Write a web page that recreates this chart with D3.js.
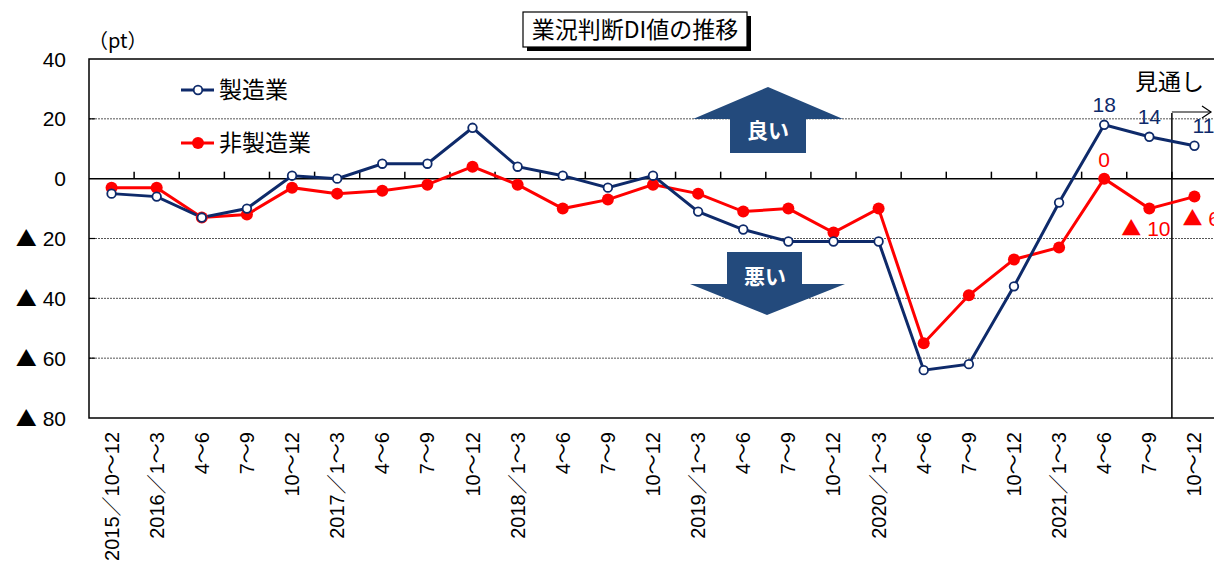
<!DOCTYPE html>
<html>
<head>
<meta charset="utf-8">
<script src="https://cdn.jsdelivr.net/npm/d3@7"></script>
<style>
  body { margin: 0; background: #fff; overflow: hidden; }
  text { font-family: "Liberation Sans", Arial, "Noto Sans CJK JP", sans-serif; }
  .jp { font-family: "Noto Sans CJK JP", sans-serif; }
</style>
</head>
<body>
<div id="chart"></div>
<script>
// quarters on the x axis
const quarters = ["2015／10～12", "2016／1～3", "4～6", "7～9", "10～12", "2017／1～3", "4～6", "7～9", "10～12",
  "2018／1～3", "4～6", "7～9", "10～12", "2019／1～3", "4～6", "7～9", "10～12",
  "2020／1～3", "4～6", "7～9", "10～12", "2021／1～3", "4～6", "7～9", "10～12"];
// 製造業
const manufacturing = [-5, -6, -13, -10, 1, 0, 5, 5, 17, 4, 1, -3, 1, -11, -17, -21, -21, -21, -64, -62, -36, -8, 18, 14, 11];
// 非製造業
const nonManufacturing = [-3, -3, -13, -12, -3, -5, -4, -2, 4, -2, -10, -7, -2, -5, -11, -10, -18, -10, -55, -39, -27, -23, 0, -10, -6];
const yTicks = [40, 20, 0, -20, -40, -60, -80];
const gridValues = [20, -20, -40, -60];
// labelled values at the end (index, text)
const blueLabels = [[22, "18"], [23, "14"], [24, "11"]];

const width = 1214, height = 563;
const margin = {top: 59, left: 89, right: -3, bottom: 145};

const svg = d3.select("#chart").append("svg")
  .attr("width", width)
  .attr("height", height);

const x = d3.scaleBand()
  .domain(d3.range(quarters.length))
  .range([margin.left, width - margin.right])
  .padding(0);
const cx = i => x(i) + x.bandwidth() / 2;

const y = d3.scaleLinear()
  .domain([-80, 40])
  .range([height - margin.bottom, margin.top]);

const navy = "#0e2a6a", red = "#ff0000", arrowBlue = "#234a7c";

// grid lines (dotted)
svg.append("g").selectAll("line")
  .data(gridValues)
  .enter().append("line")
  .attr("x1", margin.left).attr("x2", width)
  .attr("y1", d => y(d)).attr("y2", d => y(d))
  .attr("stroke", "#555")
  .attr("stroke-width", 1)
  .attr("stroke-dasharray", "2,1");

// little ticks on the left axis
svg.append("g").selectAll("line")
  .data(gridValues)
  .enter().append("line")
  .attr("x1", margin.left).attr("x2", margin.left + 6)
  .attr("y1", d => y(d)).attr("y2", d => y(d))
  .attr("stroke", "#000").attr("stroke-width", 1.2);

// plot frame
svg.append("rect")
  .attr("x", margin.left).attr("y", y(40))
  .attr("width", width - margin.right - margin.left)
  .attr("height", y(-80) - y(40))
  .attr("fill", "none")
  .attr("stroke", "#000")
  .attr("stroke-width", 1.5);

// zero line with ticks at category boundaries
svg.append("line")
  .attr("x1", margin.left).attr("x2", width)
  .attr("y1", y(0)).attr("y2", y(0))
  .attr("stroke", "#000").attr("stroke-width", 1.5);
svg.append("g").selectAll("line")
  .data(d3.range(1, quarters.length))
  .enter().append("line")
  .attr("x1", d => x(d)).attr("x2", d => x(d))
  .attr("y1", y(0)).attr("y2", y(0) - 7)
  .attr("stroke", "#000").attr("stroke-width", 1.5);

// y axis labels
const yl = svg.append("g").selectAll("text")
  .data(yTicks)
  .enter().append("text")
  .attr("x", 66)
  .attr("y", d => y(d))
  .attr("dy", "0.36em")
  .attr("text-anchor", "end")
  .attr("font-size", 21);
yl.filter(d => d < 0).append("tspan").attr("class", "jp").attr("font-size", 21).text("▲");
yl.append("tspan").text(d => d < 0 ? " " + (-d) : d);

svg.append("text")
  .attr("class", "jp")
  .attr("x", 88).attr("y", 48)
  .attr("font-size", 20)
  .text("（pt）");

// x axis labels (rotated)
svg.append("g").selectAll("text")
  .data(quarters)
  .enter().append("text")
  .attr("transform", (d, i) => `translate(${cx(i) + 7},${y(-80) + 14}) rotate(-90)`)
  .attr("text-anchor", "end")
  .attr("font-size", 20)
  .text(d => d);

// title box
const title = svg.append("g").attr("transform", "translate(523,12)");
title.append("rect").attr("x", 4).attr("y", 4).attr("width", 224).attr("height", 35).attr("fill", "#000");
title.append("rect").attr("x", 0).attr("y", 0).attr("width", 224).attr("height", 35)
  .attr("fill", "#fff").attr("stroke", "#000").attr("stroke-width", 1.2);
title.append("text").attr("class", "jp").attr("x", 112).attr("y", 26).attr("text-anchor", "middle")
  .attr("font-size", 23).text("業況判断DI値の推移");

// arrows 良い / 悪い
const arrowUp = [[768, 87], [843, 119], [806, 119], [806, 153], [730, 153], [730, 119], [693, 119]];
const arrowDown = [[727, 252], [802, 252], [802, 284], [845, 284], [767, 315], [690, 284], [727, 284]];
svg.append("polygon").attr("points", arrowUp.join(" ")).attr("fill", arrowBlue);
svg.append("polygon").attr("points", arrowDown.join(" ")).attr("fill", arrowBlue);
svg.append("text").attr("class", "jp").attr("x", 768).attr("y", 138).attr("text-anchor", "middle")
  .attr("font-size", 21).attr("font-weight", "bold").attr("fill", "#fff").text("良い");
svg.append("text").attr("class", "jp").attr("x", 765).attr("y", 284).attr("text-anchor", "middle")
  .attr("font-size", 21).attr("font-weight", "bold").attr("fill", "#fff").text("悪い");

// forecast divider
const divX = x(24);
svg.append("line").attr("x1", divX).attr("x2", divX).attr("y1", 113).attr("y2", y(-80))
  .attr("stroke", "#000").attr("stroke-width", 1.5);
svg.append("line").attr("x1", divX).attr("x2", width - 3).attr("y1", 112).attr("y2", 112)
  .attr("stroke", "#000").attr("stroke-width", 1.2);
svg.append("path").attr("d", `M${width - 12},106 L${width - 3},112 L${width - 12},118`)
  .attr("fill", "none").attr("stroke", "#000").attr("stroke-width", 1.2);
svg.append("text").attr("class", "jp").attr("x", 1135).attr("y", 90).attr("font-size", 23).text("見通し");

// lines
const line = d3.line().x((d, i) => cx(i)).y(d => y(d));

svg.append("path").datum(nonManufacturing)
  .attr("d", line).attr("fill", "none").attr("stroke", red).attr("stroke-width", 3);
svg.append("path").datum(manufacturing)
  .attr("d", line).attr("fill", "none").attr("stroke", navy).attr("stroke-width", 3);

svg.append("g").selectAll("circle")
  .data(nonManufacturing)
  .enter().append("circle")
  .attr("cx", (d, i) => cx(i)).attr("cy", d => y(d))
  .attr("r", 6).attr("fill", red);
svg.append("g").selectAll("circle")
  .data(manufacturing)
  .enter().append("circle")
  .attr("cx", (d, i) => cx(i)).attr("cy", d => y(d))
  .attr("r", 4.3).attr("fill", "#fff").attr("stroke", navy).attr("stroke-width", 1.8);

// value labels
svg.append("g").selectAll("text")
  .data(blueLabels)
  .enter().append("text")
  .attr("x", d => cx(d[0]) + (d[0] === 24 ? 9 : 0))
  .attr("y", d => y(manufacturing[d[0]]) - 13)
  .attr("text-anchor", "middle")
  .attr("font-size", 21).attr("fill", navy)
  .text(d => d[1]);

function redLabel(i, dx, dy) {
  const v = nonManufacturing[i];
  const t = svg.append("text").attr("x", cx(i) + dx).attr("y", y(v) + dy)
    .attr("font-size", 21).attr("fill", red);
  if (v < 0) {
    t.append("tspan").attr("class", "jp").attr("font-size", 20).text("▲");
    t.append("tspan").text(" " + (-v));
  } else {
    t.attr("text-anchor", "middle").text(v);
  }
}
redLabel(22, 0, -12);
redLabel(23, -28, 27);
redLabel(24, -12, 29);

// legend
const legend = [["製造業", navy, false, 90], ["非製造業", red, true, 143]];
legend.forEach(([name, color, filled, ly]) => {
  svg.append("line").attr("x1", 181).attr("x2", 214).attr("y1", ly).attr("y2", ly)
    .attr("stroke", color).attr("stroke-width", 3);
  svg.append("circle").attr("cx", 198).attr("cy", ly)
    .attr("r", filled ? 6 : 4.3)
    .attr("fill", filled ? color : "#fff")
    .attr("stroke", filled ? "none" : color).attr("stroke-width", 1.8);
  svg.append("text").attr("class", "jp").attr("x", 219).attr("y", ly + 8).attr("font-size", 23).text(name);
});
</script>
</body>
</html>
